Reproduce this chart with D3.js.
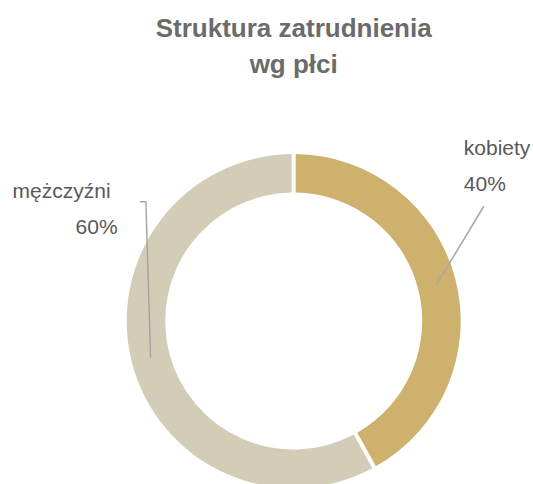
<!DOCTYPE html>
<html>
<head>
<meta charset="utf-8">
<script src="https://cdn.jsdelivr.net/npm/d3@7"></script>
<style>
  body { margin: 0; background: #fff; }
  svg { display: block; font-family: "Liberation Sans", Arial, sans-serif; }
</style>
</head>
<body>
<div id="okvir"></div>
<script>
// podaci
const kategorije = ["kobiety", "mężczyźni"]
const udjeli = [42, 58]
const oznakePostotak = ["40%", "60%"]
const boje = ["#cfb16e", "#d3cdb8"]
const naslov = ["Struktura zatrudnienia", "wg płci"]

function crtajKrug() {
  const dataset = kategorije.map((k, i) => ({ kategorija: k, vrijednost: udjeli[i], oznaka: oznakePostotak[i], boja: boje[i] }))

  const dimenzije = {
    sirina: 533,
    visina: 484,
    cx: 293.7,
    cy: 321,
    rVanjski: 167,
    rUnutarnji: 128.5,
  }

  const okvir = d3.select("#okvir")
    .append("svg")
      .attr("width", dimenzije.sirina)
      .attr("height", dimenzije.visina)

  // naslov
  okvir.append("text")
      .attr("text-anchor", "middle")
      .attr("font-size", 26)
      .attr("font-weight", "bold")
      .attr("fill", "#6b6b6b")
    .selectAll("tspan")
    .data(naslov)
    .join("tspan")
      .attr("x", dimenzije.cx)
      .attr("y", (d, i) => 37 + i * 36)
      .text(d => d)

  const granice = okvir.append("g")
      .attr("transform", `translate(${dimenzije.cx}, ${dimenzije.cy})`)

  const pieGenerator = d3.pie()
    .value(d => d.vrijednost)
    .sort(null)

  const arcGenerator = d3.arc()
    .innerRadius(dimenzije.rUnutarnji)
    .outerRadius(dimenzije.rVanjski)
    .padRadius(dimenzije.rVanjski)
    .padAngle(4 / dimenzije.rVanjski)

  const kriske = pieGenerator(dataset)

  granice.selectAll("path")
    .data(kriske)
    .join("path")
      .attr("d", arcGenerator)
      .attr("fill", d => d.data.boja)

  // linije oznaka
  const pomaci = [
    { linija: [[0, 0], [47, -78]], tekst: [27, -129], anchor: "start", dx2: 0 },
    { linija: [[0, 0], [-4.7, -156], [-10.7, -156]], tekst: [-40, -160], anchor: "end", dx2: 7 },
  ]

  const linija = d3.line()

  kriske.forEach((k, i) => {
    const [x0, y0] = arcGenerator.centroid(k)
    const p = pomaci[i]
    granice.append("path")
        .attr("d", linija(p.linija.map(([dx, dy]) => [x0 + dx, y0 + dy])))
        .attr("fill", "none")
        .attr("stroke", "#a6a6a6")
        .attr("stroke-width", 1.5)

    const tx = x0 + p.tekst[0]
    const ty = y0 + p.tekst[1]
    const t = granice.append("text")
        .attr("text-anchor", p.anchor)
        .attr("font-size", 21)
        .attr("fill", "#595959")
    t.append("tspan")
        .attr("x", tx)
        .attr("y", ty)
        .text(k.data.kategorija)
    t.append("tspan")
        .attr("x", tx + p.dx2)
        .attr("y", ty + 36)
        .text(k.data.oznaka)
  })
}
crtajKrug()
</script>
</body>
</html>
